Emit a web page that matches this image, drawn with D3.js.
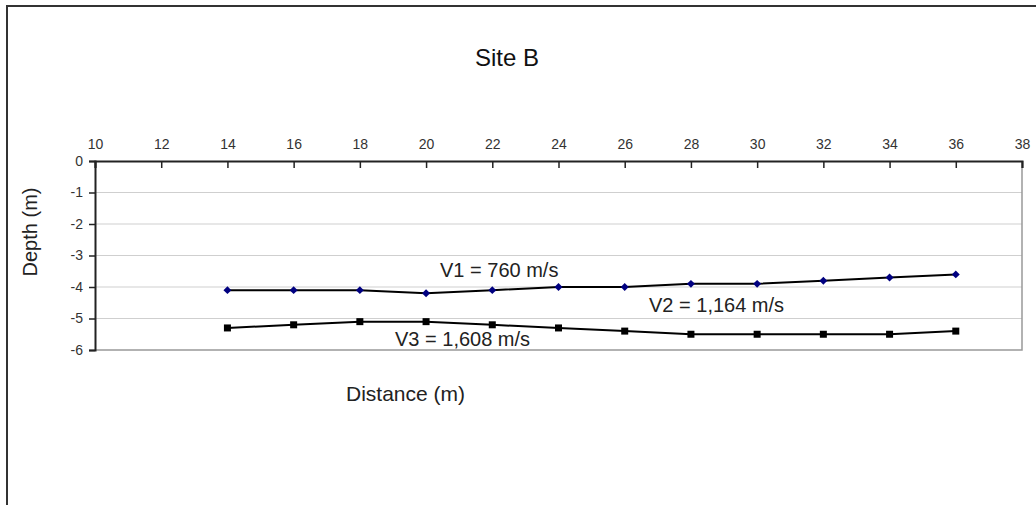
<!DOCTYPE html>
<html>
<head>
<meta charset="utf-8">
<script src="https://cdn.jsdelivr.net/npm/d3@7"></script>
<style>
  body { margin: 0; background: #fff; }
  svg { display: block; font-family: "Liberation Sans", Arial, sans-serif; }
</style>
</head>
<body>
<div id="chart"></div>
<script>
// Data
const distance = [14, 16, 18, 20, 22, 24, 26, 28, 30, 32, 34, 36]
const layer1 = [-4.1, -4.1, -4.1, -4.2, -4.1, -4.0, -4.0, -3.9, -3.9, -3.8, -3.7, -3.6]
const layer2 = [-5.3, -5.2, -5.1, -5.1, -5.2, -5.3, -5.4, -5.5, -5.5, -5.5, -5.5, -5.4]
const xTicks = [10, 12, 14, 16, 18, 20, 22, 24, 26, 28, 30, 32, 34, 36, 38]
const yTicks = [0, -1, -2, -3, -4, -5, -6]

const width = 1036
const height = 505

const svg = d3.select("#chart")
  .append("svg")
  .attr("width", width)
  .attr("height", height)

// outer frame (only top and left visible)
svg.append("path")
  .attr("d", `M7,${height} V6 H${width}`)
  .style("fill", "none")
  .style("stroke", "#333")
  .style("stroke-width", 2)

const x = d3.scaleLinear().domain([10, 38]).range([95, 1022])
const y = d3.scaleLinear().domain([0, -6]).range([161, 350])

// gridlines
svg.append("g")
  .selectAll("line")
  .data(yTicks.filter(d => d !== 0 && d !== -6))
  .enter()
  .append("line")
  .attr("x1", x(10))
  .attr("x2", x(38))
  .attr("y1", d => y(d))
  .attr("y2", d => y(d))
  .style("stroke", "#cfcfcf")
  .style("stroke-width", 1)

// right and bottom border of plot area
svg.append("path")
  .attr("d", `M${x(10)},${y(-6)} H${x(38)} V${y(0)}`)
  .style("fill", "none")
  .style("stroke", "#999")
  .style("stroke-width", 1.5)

// top axis, ticks pointing inward
const xAxis = svg.append("g")
  .attr("transform", `translate(0,${y(0)})`)
  .call(d3.axisTop(x).tickValues(xTicks).tickSize(-7).tickPadding(12).tickFormat(d => String(d)))
xAxis.select(".domain").style("stroke", "#222").style("stroke-width", 2)
xAxis.selectAll(".tick line").style("stroke", "#222").style("stroke-width", 1.5)
xAxis.selectAll("text").style("font-size", "14px").style("fill", "#333")

// left axis
const yAxis = svg.append("g")
  .attr("transform", `translate(${x(10)},0)`)
  .call(d3.axisLeft(y).tickValues(yTicks).tickSize(6).tickPadding(6).tickFormat(d => String(d)))
yAxis.select(".domain").style("stroke", "#222").style("stroke-width", 2)
yAxis.selectAll(".tick line").style("stroke", "#222").style("stroke-width", 1.5)
yAxis.selectAll("text").style("font-size", "14px").style("fill", "#333")

// lines
const line = d3.line().x((d, i) => x(distance[i])).y(d => y(d))

svg.append("path")
  .datum(layer1)
  .attr("d", line)
  .style("fill", "none")
  .style("stroke", "#000")
  .style("stroke-width", 2)

svg.append("path")
  .datum(layer2)
  .attr("d", line)
  .style("fill", "none")
  .style("stroke", "#000")
  .style("stroke-width", 2)

// markers
svg.append("g")
  .selectAll("path")
  .data(layer1)
  .enter()
  .append("path")
  .attr("d", d3.symbol().type(d3.symbolDiamond2).size(40))
  .attr("transform", (d, i) => `translate(${x(distance[i])},${y(d)})`)
  .style("fill", "#000080")

svg.append("g")
  .selectAll("rect")
  .data(layer2)
  .enter()
  .append("rect")
  .attr("x", (d, i) => x(distance[i]) - 3.5)
  .attr("y", d => y(d) - 3.5)
  .attr("width", 7)
  .attr("height", 7)
  .style("fill", "#000")

// texts
svg.append("text")
  .attr("x", 507).attr("y", 66)
  .attr("text-anchor", "middle")
  .style("font-size", "24px").style("fill", "#111")
  .text("Site B")

svg.append("text")
  .attr("transform", "translate(37,232) rotate(-90)")
  .attr("text-anchor", "middle")
  .style("font-size", "20px").style("fill", "#222")
  .text("Depth (m)")

svg.append("text")
  .attr("x", 346).attr("y", 401)
  .style("font-size", "21px").style("fill", "#222")
  .text("Distance (m)")

svg.append("text")
  .attr("x", 440).attr("y", 277)
  .style("font-size", "20px").style("fill", "#222")
  .text("V1 = 760 m/s")

svg.append("text")
  .attr("x", 649).attr("y", 312)
  .style("font-size", "20px").style("fill", "#222")
  .text("V2 = 1,164 m/s")

svg.append("text")
  .attr("x", 395).attr("y", 346)
  .style("font-size", "20px").style("fill", "#222")
  .text("V3 = 1,608 m/s")
</script>
</body>
</html>
